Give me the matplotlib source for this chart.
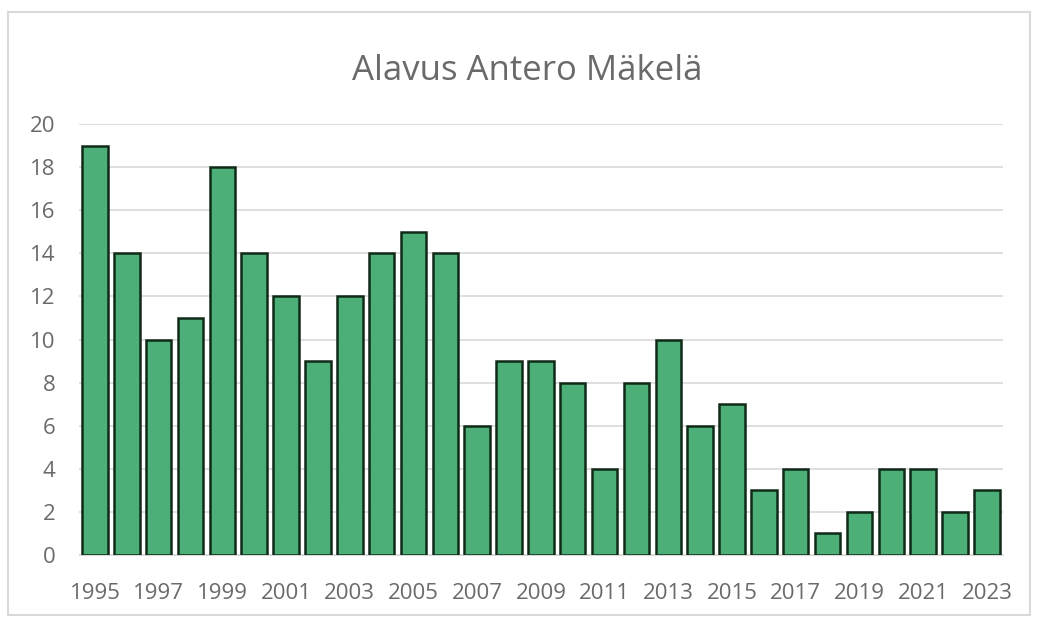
import matplotlib.pyplot as plt
from matplotlib.patches import Rectangle

years = list(range(1995, 2024))
counts = [19, 14, 10, 11, 18, 14, 12, 9, 12, 14, 15, 14, 6, 9, 9, 8, 4, 8, 10, 6, 7, 3, 4, 1, 2, 4, 4, 2, 3]
tick_labels = [str(y) if (y - 1995) % 2 == 0 else '' for y in years]

plt.rcParams['font.family'] = ['Open Sans', 'DejaVu Sans']

fig = plt.figure(figsize=(10.37, 6.2), dpi=100)
fig.patches.append(Rectangle((0.008, 0.008), 0.985, 0.972, transform=fig.transFigure,
                             fill=False, edgecolor='#d9d9d9', linewidth=1.5))

ax = fig.add_axes([0.0762, 0.1048, 0.8908, 0.6952])
x = range(len(years))
ax.bar(x, counts, width=0.8, color='#4caf78', edgecolor='#102a18', linewidth=1.8, zorder=3)

ax.set_xlim(-0.5, len(years) - 0.5)
ax.set_ylim(0, 20)
ax.set_yticks(range(0, 21, 2))
ax.set_xticks(list(x))
ax.set_xticklabels(tick_labels)
ax.grid(axis='y', color='#d9d9d9', linewidth=1.2, zorder=0)
for s in ['top', 'right', 'left']:
    ax.spines[s].set_visible(False)
ax.spines['bottom'].set_color('#d9d9d9')
ax.tick_params(length=0, labelsize=16, colors='#6a6a6a')
ax.tick_params(axis='x', pad=20)
ax.tick_params(axis='y', pad=17)

fig.text(0.508, 0.885, 'Alavus Antero Mäkelä', ha='center', va='center', fontsize=25, color='#6a6a6a')

fig.savefig('out.png', dpi=100)
